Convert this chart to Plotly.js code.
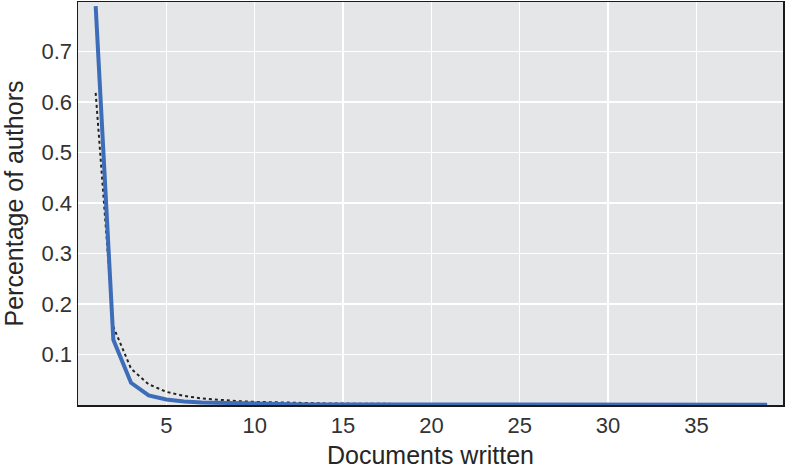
<!DOCTYPE html>
<html>
<head>
<meta charset="utf-8">
<script src="https://cdn.plot.ly/plotly-3.0.1.min.js"></script>
<style>
  html, body { margin: 0; padding: 0; background: #ffffff; }
  #chart { width: 786px; height: 469px; }
</style>
</head>
<body>
<div id="chart"></div>
<script>
// Documents written per author (1..39)
const docsWritten = [1, 2, 3, 4, 5, 6, 7, 8, 9, 10,
    11, 12, 13, 14, 15, 16, 17, 18, 19, 20,
    21, 22, 23, 24, 25, 26, 27, 28, 29, 30,
    31, 32, 33, 34, 35, 36, 37, 38, 39];

// Observed share of authors (solid blue line)
const observedShare = [0.79, 0.129, 0.044, 0.019, 0.011, 0.007, 0.005, 0.004, 0.003, 0.0025,
    0.002, 0.0015, 0.0012, 0.0011, 0.001, 0.0009, 0.0008, 0.0008, 0.0007, 0.0007,
    0.0006, 0.0006, 0.0006, 0.0005, 0.0005, 0.0005, 0.0005, 0.0004, 0.0004, 0.0004,
    0.0004, 0.0004, 0.0004, 0.0003, 0.0003, 0.0003, 0.0003, 0.0003, 0.0003];

// Expected share (dotted black line)
const expectedShare = [0.618, 0.155, 0.072, 0.041, 0.026, 0.018, 0.013, 0.0098, 0.0077, 0.0062,
    0.0051, 0.0043, 0.0037, 0.0032, 0.0028, 0.0024, 0.0021, 0.0019, 0.0017, 0.0016,
    0.0014, 0.0013, 0.0012, 0.0011, 0.001, 0.0009, 0.00085, 0.0008, 0.00075, 0.0007,
    0.00065, 0.0006, 0.00057, 0.00054, 0.0005, 0.00048, 0.00045, 0.00043, 0.0004];

const xTicks = [5, 10, 15, 20, 25, 30, 35];
const yTicks = [0.1, 0.2, 0.3, 0.4, 0.5, 0.6, 0.7];

const textFont = 'Liberation Sans, Arial, Helvetica, sans-serif';

const traces = [
    {
        x: docsWritten,
        y: expectedShare,
        mode: 'lines',
        line: { color: '#222222', width: 2, dash: 'dot' },
        hoverinfo: 'skip'
    },
    {
        x: docsWritten,
        y: observedShare,
        mode: 'lines',
        line: { color: '#3d6cb9', width: 4 },
        hoverinfo: 'skip'
    }
];

const layout = {
    width: 786,
    height: 469,
    margin: { l: 78, r: 3, t: 2, b: 64 },
    paper_bgcolor: '#ffffff',
    plot_bgcolor: '#e5e6e8',
    showlegend: false,
    font: { family: textFont, color: '#262626' },
    xaxis: {
        range: [0, 39.9],
        tickvals: xTicks,
        ticktext: xTicks.map(String),
        ticks: '',
        ticklabelstandoff: 0,
        tickfont: { size: 22, color: '#333333' },
        showgrid: true,
        gridcolor: '#ffffff',
        gridwidth: 1.5,
        zeroline: false,
        showline: true,
        mirror: true,
        linecolor: '#1a1a1a',
        linewidth: 1.5,
        title: { text: 'Documents written', font: { size: 25, color: '#262626' }, standoff: 9 }
    },
    yaxis: {
        range: [0, 0.798],
        tickvals: yTicks,
        ticktext: yTicks.map(v => v.toFixed(1)),
        ticks: '',
        ticklabelstandoff: 0,
        tickfont: { size: 22, color: '#333333' },
        showgrid: true,
        gridcolor: '#ffffff',
        gridwidth: 1.5,
        zeroline: false,
        showline: true,
        mirror: true,
        linecolor: '#1a1a1a',
        linewidth: 1.5,
        title: { text: 'Percentage of authors', font: { size: 25, color: '#262626' }, standoff: 12 }
    }
};

Plotly.newPlot('chart', traces, layout, { displayModeBar: false, staticPlot: true });
</script>
</body>
</html>
